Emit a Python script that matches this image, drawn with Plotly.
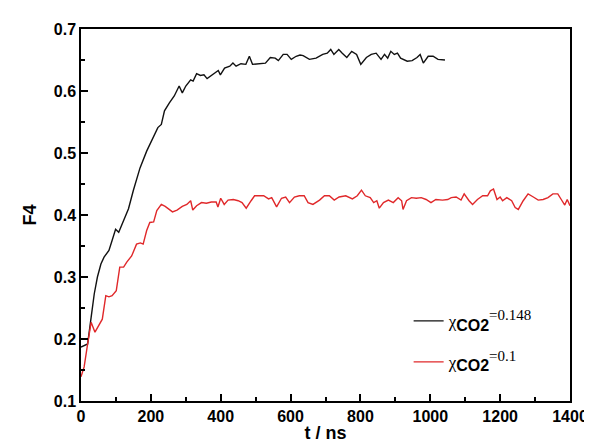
import plotly.graph_objects as go

# Black series: x_CO2 = 0.148
t_black = [0, 10, 19, 29, 38, 47, 57, 66, 80, 89, 99, 108, 122, 136, 150, 169, 188, 206, 220, 230,
           239, 253, 267, 281, 290, 300, 314, 321, 331, 342, 352, 361, 375, 393, 399, 411, 426, 435, 444, 458,
           472, 482, 491, 514, 528, 542, 556, 565, 579, 590, 602, 616, 627, 636, 654, 673, 692, 705, 715, 724,
           738, 748, 761, 775, 789, 801, 817, 831, 845, 859, 869, 878, 887, 897, 906, 915, 934, 948, 962, 971,
           980, 994, 1008, 1022, 1036, 1042]
f4_black = [0.187, 0.190, 0.192, 0.235, 0.273, 0.300, 0.321, 0.332, 0.343, 0.359, 0.377, 0.372, 0.390, 0.410, 0.440, 0.476, 0.503, 0.525, 0.541, 0.546,
            0.568, 0.581, 0.592, 0.608, 0.597, 0.608, 0.618, 0.616, 0.628, 0.625, 0.626, 0.620, 0.626, 0.633, 0.626, 0.637, 0.640, 0.645, 0.640, 0.644,
            0.643, 0.656, 0.643, 0.644, 0.645, 0.654, 0.653, 0.649, 0.659, 0.659, 0.651, 0.656, 0.658, 0.657, 0.651, 0.653, 0.659, 0.661, 0.667, 0.659,
            0.667, 0.661, 0.654, 0.664, 0.659, 0.643, 0.654, 0.659, 0.661, 0.651, 0.659, 0.653, 0.664, 0.659, 0.661, 0.653, 0.648, 0.649, 0.654, 0.659,
            0.645, 0.656, 0.656, 0.651, 0.651, 0.650]

# Red series: x_CO2 = 0.1
t_red = [0, 9, 19, 29, 40, 52, 61, 71, 80, 89, 101, 111, 122, 131, 145, 159, 170, 178, 188, 197,
         208, 217, 230, 241, 253, 262, 275, 290, 303, 314, 320, 331, 345, 359, 373, 387, 392, 400, 410, 421,
         436, 450, 461, 473, 487, 497, 513, 523, 537, 546, 560, 574, 586, 597, 611, 625, 639, 650, 664, 683,
         697, 711, 725, 739, 758, 777, 791, 803, 814, 828, 838, 847, 854, 866, 880, 894, 908, 918, 922, 932,
         946, 960, 974, 988, 1002, 1016, 1035, 1050, 1060, 1074, 1088, 1097, 1111, 1121, 1135, 1150, 1164, 1172, 1181, 1191,
         1200, 1207, 1219, 1233, 1243, 1252, 1266, 1280, 1295, 1309, 1323, 1337, 1351, 1365, 1375, 1385, 1392, 1400]
f4_red = [0.139, 0.155, 0.192, 0.227, 0.211, 0.224, 0.232, 0.270, 0.268, 0.270, 0.278, 0.316, 0.316, 0.324, 0.334, 0.353, 0.355, 0.353, 0.375, 0.388,
          0.389, 0.407, 0.417, 0.414, 0.408, 0.405, 0.408, 0.414, 0.417, 0.423, 0.408, 0.415, 0.420, 0.419, 0.421, 0.421, 0.413, 0.427, 0.417, 0.424,
          0.425, 0.423, 0.420, 0.411, 0.423, 0.431, 0.431, 0.431, 0.426, 0.428, 0.413, 0.427, 0.429, 0.420, 0.429, 0.431, 0.431, 0.420, 0.417, 0.424,
          0.431, 0.431, 0.424, 0.429, 0.431, 0.426, 0.431, 0.440, 0.431, 0.428, 0.420, 0.423, 0.411, 0.420, 0.424, 0.420, 0.428, 0.423, 0.409, 0.423,
          0.428, 0.427, 0.428, 0.425, 0.420, 0.425, 0.424, 0.425, 0.428, 0.429, 0.424, 0.434, 0.423, 0.417, 0.425, 0.431, 0.431, 0.439, 0.442, 0.425,
          0.429, 0.423, 0.428, 0.423, 0.412, 0.409, 0.423, 0.434, 0.429, 0.424, 0.425, 0.428, 0.434, 0.434, 0.425, 0.416, 0.425, 0.415]

assert len(t_black) == len(f4_black), (len(t_black), len(f4_black))
assert len(t_red) == len(f4_red), (len(t_red), len(f4_red))

x_ticks = [0, 200, 400, 600, 800, 1000, 1200, 1400]
y_ticks = [0.1, 0.2, 0.3, 0.4, 0.5, 0.6, 0.7]

def legend_name(val):
    return ("<span style='font-family:Liberation Serif;font-size:17px'>χ</span>"
            "<sub><span style='font-size:16px;font-weight:bold'>CO2</span></sub>"
            "<sup><span style='font-family:Liberation Serif;font-size:15px'>=" + val + "</span></sup>")

fig = go.Figure()
fig.add_trace(go.Scatter(x=t_black, y=f4_black, mode="lines", name=legend_name("0.148"),
                         line=dict(color="#111111", width=1.4), legend="legend"))
fig.add_trace(go.Scatter(x=t_red, y=f4_red, mode="lines", name=legend_name("0.1"),
                         line=dict(color="#e0282a", width=1.4), legend="legend2"))

axis_common = dict(showline=True, linecolor="black", linewidth=1.5, mirror=True,
                   ticks="inside", ticklen=7, tickwidth=1.5, tickcolor="black",
                   showgrid=False, zeroline=False,
                   tickfont=dict(family="Liberation Sans", size=16, color="black", weight="bold"))

fig.update_layout(
    width=592, height=444,
    margin=dict(l=73, r=19, t=21, b=50),
    paper_bgcolor="white", plot_bgcolor="white",
    showlegend=True,
    xaxis=dict(range=[0, 1400], tickvals=x_ticks, ticktext=[str(v) for v in x_ticks],
               minor=dict(dtick=100, ticks="inside", ticklen=4, tickwidth=1.5, tickcolor="black"),
               title=dict(text="<b>t / ns</b>", font=dict(family="Liberation Sans", size=18, color="black"),
                          standoff=2),
               **axis_common),
    yaxis=dict(range=[0.1, 0.7], tickvals=y_ticks, ticktext=[f"{v:.1f}" for v in y_ticks],
               minor=dict(dtick=0.05, ticks="inside", ticklen=4, tickwidth=1.5, tickcolor="black"),
               title=dict(text="<b>F4</b>", font=dict(family="Liberation Sans", size=18, color="black"),
                          standoff=12),
               **axis_common),
    legend=dict(x=0.67, y=0.215, xanchor="left", yanchor="middle", bgcolor="rgba(0,0,0,0)",
                font=dict(family="Liberation Sans", size=16, color="black")),
    legend2=dict(x=0.67, y=0.105, xanchor="left", yanchor="middle", bgcolor="rgba(0,0,0,0)",
                 font=dict(family="Liberation Sans", size=16, color="black")),
)

fig.write_html("out.html")
